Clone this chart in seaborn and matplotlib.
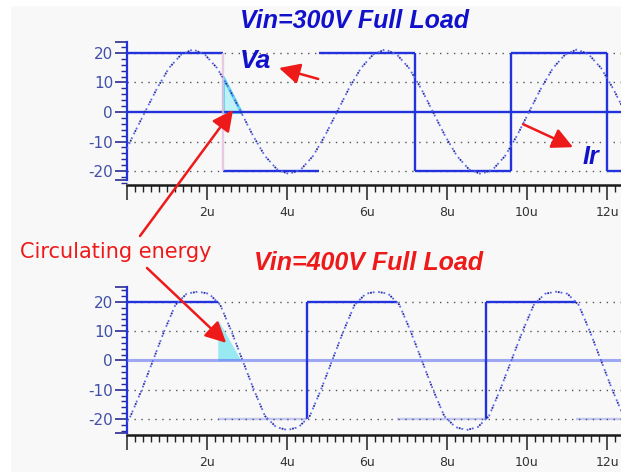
import matplotlib
matplotlib.use("Agg")
import matplotlib.pyplot as plt
import pandas as pd
import seaborn as sns
from matplotlib.ticker import MultipleLocator

# ---------------- data (time in microseconds, current in A) ----------------
# Vin = 300 V, full load: resonant current Ir
ir300_t = [0.0, 0.15, 0.45, 0.75, 1.05, 1.35, 1.65, 1.95, 2.25, 2.55, 2.85,
           3.15, 3.45, 3.75, 4.05, 4.35, 4.65, 4.95, 5.25, 5.55, 5.85, 6.15,
           6.45, 6.75, 7.05, 7.35, 7.65, 7.95, 8.25, 8.55, 8.85, 9.15, 9.45,
           9.75, 10.05, 10.35, 10.65, 10.95, 11.25, 11.55, 11.85, 12.15, 12.45]
ir300_v = [-12.5, -8.0, 0.0, 8.0, 14.9, 19.4, 21.2, 19.4, 14.9, 8.0, 0.0,
           -8.0, -14.9, -19.4, -21.0, -19.4, -14.9, -8.0, 0.0, 8.0, 14.9, 19.4,
           21.2, 19.4, 14.9, 8.0, 0.0, -8.0, -14.9, -19.4, -21.0, -19.4, -14.9,
           -8.0, 0.0, 8.0, 14.9, 19.4, 21.2, 19.4, 14.9, 8.0, 0.0]
# bridge voltage Va (scaled), switching instants and levels
va300_t = [0.0, 2.4, 4.8, 7.2, 9.6, 12.0, 12.35]
va300_v = [20, -20, 20, -20, 20, -20]
# circulating-energy region
circ300_t = [2.4, 2.85]
circ300_v = [11.8, 0.0]

# Vin = 400 V, full load
ir400_t = [0.0, 0.09, 0.37, 0.65, 0.93, 1.21, 1.49, 1.77, 2.05, 2.33, 2.61,
           2.89, 3.17, 3.45, 3.73, 4.01, 4.29, 4.57, 4.85, 5.13, 5.41, 5.69,
           5.97, 6.25, 6.53, 6.81, 7.09, 7.37, 7.65, 7.93, 8.21, 8.49, 8.77,
           9.05, 9.33, 9.61, 9.89, 10.17, 10.45, 10.73, 11.01, 11.29, 11.57,
           11.85, 12.13, 12.41]
ir400_v = [-21.0, -19.0, -10.0, 0.0, 10.0, 19.0, 22.8, 23.5, 22.8, 19.0, 10.0,
           0.0, -10.0, -19.0, -22.8, -23.8, -22.8, -19.0, -10.0, 0.0, 10.0, 19.0,
           22.8, 23.5, 22.8, 19.0, 10.0, 0.0, -10.0, -19.0, -22.8, -23.8, -22.8,
           -19.0, -10.0, 0.0, 10.0, 19.0, 22.8, 23.5, 22.8, 19.0, 10.0,
           0.0, -10.0, -19.0]
va400_t = [0.0, 2.27, 4.50, 6.75, 8.98, 11.23, 12.35]
va400_v = [20, -20, 20, -20, 20, -20]
circ400_t = [2.27, 2.85]
circ400_v = [14.0, 0.0]

y_ticks = [-20, -10, 0, 10, 20]
y_ticklabels = ["-20", "-10", "0", "10", "20"]
x_ticks = [0, 2, 4, 6, 8, 10, 12]
x_ticklabels = ["", "2u", "4u", "6u", "8u", "10u", "12u"]

# ---------------- styling ----------------
sns.set_theme(style="white")
plt.rcParams["font.family"] = ["DejaVu Sans"]
plt.rcParams["axes.unicode_minus"] = False

BLUE = "#2233dd"
NAVY = "#2a2a90"
RED = "#ee1a1a"
W, H = 621, 472

fig = plt.figure(figsize=(W / 100, H / 100), dpi=100, facecolor="#f8f8f8")
# thin white margin at the top and left
fig.patches.append(plt.Rectangle((0, 0), 10 / W, 1, transform=fig.transFigure,
                                 color="white", zorder=-10))
fig.patches.append(plt.Rectangle((0, 1 - 5 / H), 1, 5 / H, transform=fig.transFigure,
                                 color="white", zorder=-10))


def px_axes(x0, y0, x1, y1):
    return fig.add_axes([x0 / W, 1 - y1 / H, (x1 - x0) / W, (y1 - y0) / H])


def style_axes(ax, ylim, spine_lo, spine_hi):
    ax.set_facecolor("none")
    ax.set_xlim(0, 12.35)
    ax.set_ylim(*ylim)
    for s in ("top", "right"):
        ax.spines[s].set_visible(False)
    ax.spines["left"].set_color(BLUE)
    ax.spines["left"].set_linewidth(1.6)
    ax.spines["left"].set_bounds(spine_lo, spine_hi)
    ax.spines["bottom"].set_color("#1a1a1a")
    ax.spines["bottom"].set_linewidth(1.8)
    ax.set_yticks(y_ticks + [spine_lo, spine_hi])
    ax.set_yticklabels(y_ticklabels + ["", ""])
    ax.yaxis.set_minor_locator(MultipleLocator(2))
    ax.tick_params(axis="y", which="major", length=9, width=1.2, color=NAVY,
                   labelsize=11, labelcolor="#4050a8", pad=1, left=True)
    ax.tick_params(axis="y", which="minor", length=4, width=1.0, color=NAVY, left=True)
    ax.set_xticks(x_ticks)
    ax.set_xticklabels(x_ticklabels)
    ax.xaxis.set_minor_locator(MultipleLocator(0.2))
    ax.tick_params(axis="x", which="major", length=11, width=1.2, color="#333333",
                   labelsize=9, labelcolor="#333333", pad=4, bottom=True)
    ax.tick_params(axis="x", which="minor", length=5, width=1.0, color="#222222",
                   bottom=True)
    # dotted grid at +/-10 and +/-20
    for lv in (-20, -10, 10, 20):
        ax.axhline(lv, color="#555555", lw=1.0, ls=(0, (1, 4)), zorder=1)
    ax.set_xlabel("")
    ax.set_ylabel("")


def draw_ir(ax, t, v):
    df = pd.DataFrame({"t": t, "ir": v})
    sns.lineplot(data=df, x="t", y="ir", ax=ax, color="#5566ee", lw=1.3,
                 ls=(0, (1, 2)), estimator=None, sort=False, zorder=4)
    sns.lineplot(data=df, x="t", y="ir", ax=ax, color=NAVY, lw=1.3,
                 ls=(1.5, (1, 5)), estimator=None, sort=False, zorder=4)


def draw_square(ax, t, v, low_alpha, edge_styles):
    for i, lv in enumerate(v):
        a = 1.0 if lv > 0 else low_alpha
        ax.hlines(lv, t[i], t[i + 1], color=BLUE, lw=1.7, alpha=a, zorder=3)
    for i in range(1, len(v)):
        style = edge_styles[i - 1]
        if style is None:
            continue
        ax.vlines(t[i], min(v[i - 1], v[i]), max(v[i - 1], v[i]),
                  color=style[0], lw=1.7, alpha=style[1], zorder=3)


# ---------------- top panel: Vin = 300 V ----------------
ax1 = px_axes(127, 42, 621, 185)
ax1.axhline(0, color=BLUE, lw=1.7, zorder=3)
ax1.fill_between(circ300_t, 0, circ300_v, color="#bff2f8", ec="#62d6ee", lw=2.2,
                 zorder=2)
draw_square(ax1, va300_t, va300_v, 1.0,
            [("#e6bfe0", 0.8), None, (BLUE, 1), (BLUE, 1), (BLUE, 1)])
draw_ir(ax1, ir300_t, ir300_v)
style_axes(ax1, (-24.7, 23.7), -23.0, 23.7)

# ---------------- bottom panel: Vin = 400 V ----------------
ax2 = px_axes(127, 287, 621, 435)
ax2.axhline(0, color="#5566ee", lw=2.2, alpha=0.55, zorder=3)
ax2.fill_between(circ400_t, 0, circ400_v, color="#8fe8f2", lw=0, alpha=0.9,
                 zorder=2)
draw_square(ax2, va400_t, va400_v, 0.25,
            [None, (BLUE, 1), None, (BLUE, 1), None])
draw_ir(ax2, ir400_t, ir400_v)
style_axes(ax2, (-25.5, 25.1), -24.8, 25.1)

# ---------------- titles and annotations ----------------
fig.text(355 / W, 1 - 21 / H, "Vin=300V Full Load", color="#1111cc", fontsize=18,
         fontweight="bold", fontstyle="italic", family=["Liberation Sans"],
         ha="center", va="center")
fig.text(368 / W, 1 - 263 / H, "Vin=400V Full Load", color=RED, fontsize=18,
         fontweight="bold", fontstyle="italic", family=["Liberation Sans"],
         ha="center", va="center")

ax1.text(3.22, 17.4, "Va", color="#1111cc", fontsize=19, fontweight="bold",
         fontstyle="italic", family=["Liberation Sans"], ha="center", va="center")
ax1.text(11.6, -15.3, "Ir", color="#1111cc", fontsize=18, fontweight="bold",
         fontstyle="italic", family=["Liberation Sans"], ha="center", va="center")

arrow = dict(arrowstyle="-|>,head_length=0.7,head_width=0.35", color=RED, lw=1.8,
             mutation_scale=18, shrinkA=0, shrinkB=0)
ax1.annotate("", xy=(3.8, 14.9), xytext=(4.78, 11.2), arrowprops=arrow,
             annotation_clip=False)
ax1.annotate("", xy=(11.15, -11.9), xytext=(9.9, -4.1), arrowprops=arrow,
             annotation_clip=False)

fig.text(116 / W, 1 - 252 / H, "Circulating energy", color=RED, fontsize=15,
         ha="center", va="center")
ax1.annotate("", xy=(2.65, 0.7), xytext=(140, H - 236), textcoords="figure pixels",
             arrowprops=arrow, annotation_clip=False)
ax2.annotate("", xy=(2.48, 6.0), xytext=(147, H - 268), textcoords="figure pixels",
             arrowprops=arrow, annotation_clip=False)

fig.savefig("out.png", dpi=100, facecolor=fig.get_facecolor())
